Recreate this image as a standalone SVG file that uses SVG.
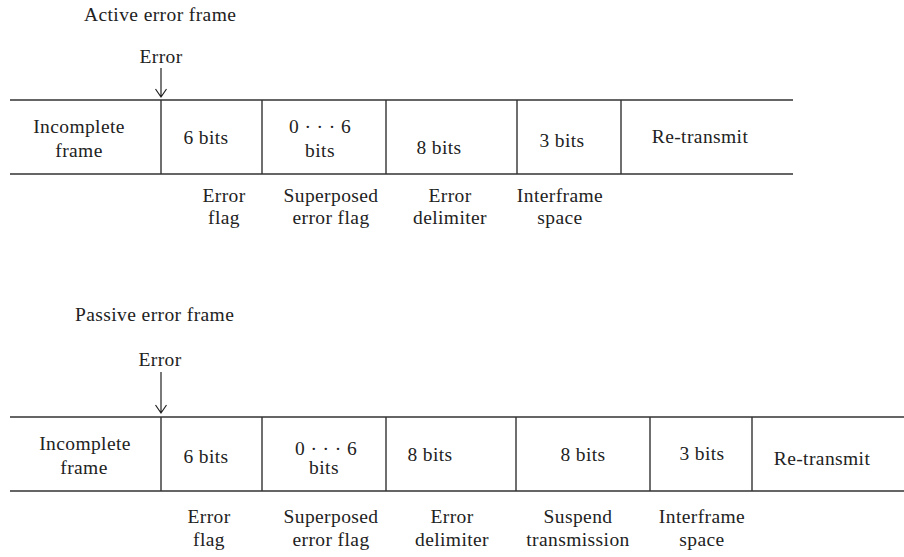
<svg xmlns="http://www.w3.org/2000/svg" width="904" height="557" viewBox="0 0 904 557">
  <style>
    text { font-family: "Liberation Serif", "Times New Roman", serif; font-size: 19.5px; letter-spacing: 0.4px; fill: #222; text-anchor: middle; }
    .title { text-anchor: start; }
    .rule { stroke: #333; stroke-width: 1.4; fill: none; }
    .arrow { stroke: #222; stroke-width: 1.2; fill: none; }
  </style>
  <rect width="904" height="557" fill="#fff"/>

  <!-- Active error frame -->
  <g id="active-frame">
    <text class="title" x="84" y="21">Active error frame</text>
    <g id="active-error-marker">
      <text x="161" y="63">Error</text>
      <path class="arrow" d="M161 68 V97 M155.5 89 L161 97 L166.5 89"/>
    </g>
    <g id="active-rules">
      <path class="rule" d="M10 100 H793 M10 174 H793"/>
      <path class="rule" d="M161 100 V174 M262 100 V174 M386 100 V174 M517 100 V174 M621 100 V174"/>
    </g>
    <g id="a-incomplete"><text x="79" y="133">Incomplete</text><text x="79" y="157">frame</text></g>
    <g id="a-errflag"><text x="206" y="144">6 bits</text></g>
    <g id="a-superposed"><text x="320" y="133">0 · · · 6</text><text x="320" y="157">bits</text></g>
    <g id="a-delim"><text x="439" y="154">8 bits</text></g>
    <g id="a-ifs"><text x="562" y="147">3 bits</text></g>
    <g id="a-retx"><text x="700" y="143">Re-transmit</text></g>
    <g id="a-labels">
      <text x="224" y="202">Error</text><text x="224" y="224">flag</text>
      <text x="331" y="202">Superposed</text><text x="331" y="224">error flag</text>
      <text x="450" y="202">Error</text><text x="450" y="224">delimiter</text>
      <text x="560" y="202">Interframe</text><text x="560" y="224">space</text>
    </g>
  </g>

  <!-- Passive error frame -->
  <g id="passive-frame">
    <text class="title" x="75" y="321">Passive error frame</text>
    <g id="passive-error-marker">
      <text x="160" y="366">Error</text>
      <path class="arrow" d="M161 372 V413 M155.5 405 L161 413 L166.5 405"/>
    </g>
    <g id="passive-rules">
      <path class="rule" d="M10 417 H904 M10 491 H904"/>
      <path class="rule" d="M161 417 V491 M262 417 V491 M386 417 V491 M516 417 V491 M650 417 V491 M752 417 V491"/>
    </g>
    <g id="p-incomplete"><text x="85" y="450">Incomplete</text><text x="84" y="474">frame</text></g>
    <g id="p-errflag"><text x="206" y="463">6 bits</text></g>
    <g id="p-superposed"><text x="326" y="455">0 · · · 6</text><text x="324" y="474">bits</text></g>
    <g id="p-delim"><text x="430" y="461">8 bits</text></g>
    <g id="p-suspend"><text x="583" y="461">8 bits</text></g>
    <g id="p-ifs"><text x="702" y="460">3 bits</text></g>
    <g id="p-retx"><text x="822" y="465">Re-transmit</text></g>
    <g id="p-labels">
      <text x="209" y="523">Error</text><text x="209" y="546">flag</text>
      <text x="331" y="523">Superposed</text><text x="331" y="546">error flag</text>
      <text x="452" y="523">Error</text><text x="452" y="546">delimiter</text>
      <text x="578" y="523">Suspend</text><text x="578" y="546">transmission</text>
      <text x="702" y="523">Interframe</text><text x="702" y="546">space</text>
    </g>
  </g>
</svg>
